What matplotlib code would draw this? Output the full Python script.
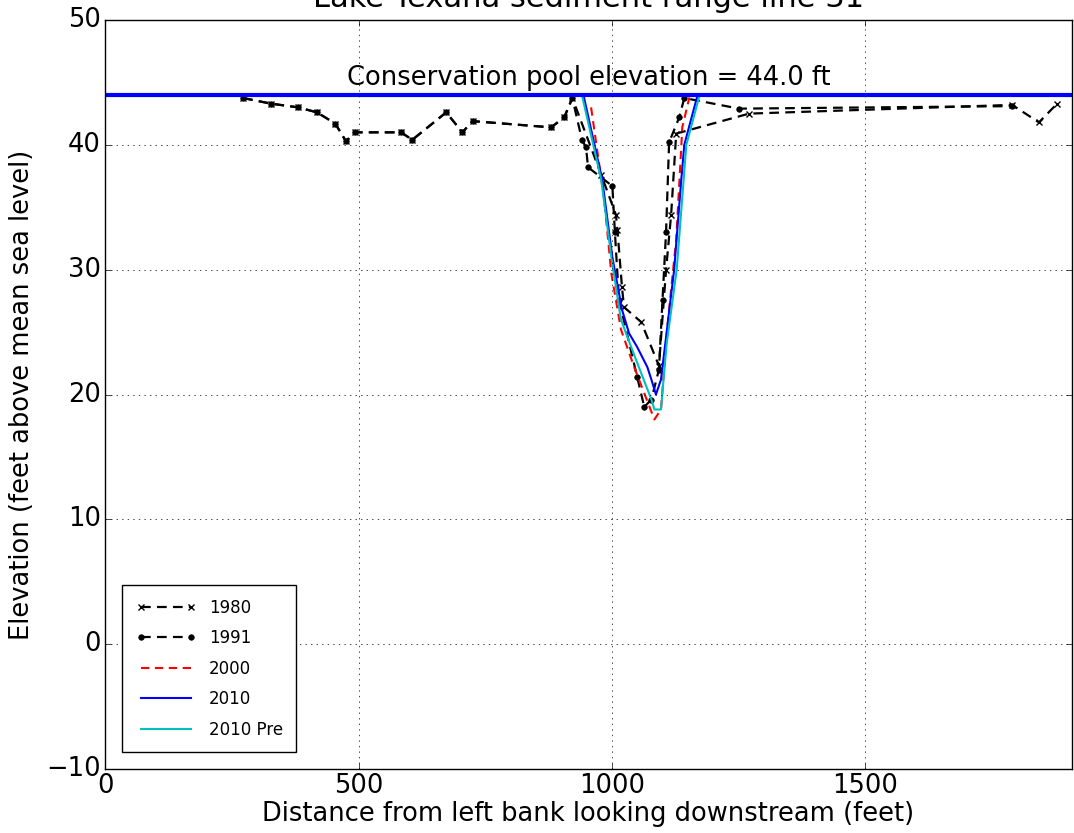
import numpy as np
import matplotlib
matplotlib.use("Agg")
import matplotlib.pyplot as plt

plt.style.use("classic")

# survey data (distance ft, elevation ft)
x_1980 = [272, 327, 381, 418, 454, 475, 493, 584, 606, 673, 705, 725, 880, 906, 922,
          979, 1008, 1011, 1020, 1024, 1058, 1093, 1107, 1117, 1127, 1271, 1790, 1843, 1879]
y_1980 = [43.75, 43.3, 43.0, 42.6, 41.7, 40.3, 41.0, 41.0, 40.4, 42.6, 41.0, 41.9, 41.4, 42.2, 43.75,
          37.6, 34.4, 33.2, 28.6, 27.0, 25.8, 22.3, 30.0, 34.4, 40.9, 42.5, 43.2, 41.8, 43.3]

x_1991 = [272, 327, 381, 418, 454, 475, 493, 584, 606, 673, 705, 725, 880, 906, 922,
          941, 949, 953, 1001, 1006, 1014, 1050, 1064, 1078, 1093, 1100, 1107, 1113, 1133, 1143, 1251, 1790]
y_1991 = [43.75, 43.3, 43.0, 42.6, 41.7, 40.3, 41.0, 41.0, 40.4, 42.6, 41.0, 41.9, 41.4, 42.2, 43.75,
          40.4, 39.8, 38.2, 36.7, 33.0, 27.6, 21.4, 19.0, 19.6, 22.0, 27.6, 33.0, 40.2, 42.2, 43.75, 42.9, 43.1]

x_2000 = [959, 985, 999, 1018, 1044, 1064, 1084, 1097, 1109, 1127, 1137, 1139, 1153]
y_2000 = [43.0, 35.6, 29.7, 25.2, 22.2, 20.1, 18.0, 18.8, 25.2, 32.4, 39.8, 41.4, 43.8]

x_2010 = [945, 981, 1001, 1020, 1034, 1050, 1070, 1078, 1087, 1097, 1123, 1137, 1143, 1168]
y_2010 = [43.8, 37.2, 31.0, 26.8, 24.9, 23.8, 22.2, 21.2, 20.0, 21.2, 30.0, 37.2, 40.0, 43.8]

x_2010pre = [942, 979, 999, 1018, 1040, 1058, 1078, 1084, 1097, 1108, 1128, 1147, 1172]
y_2010pre = [43.8, 37.2, 31.0, 26.0, 23.6, 21.7, 19.6, 18.8, 18.8, 24.0, 30.0, 40.0, 43.8]

pool_elev = 44.0
x_max = 1908

fig = plt.figure(figsize=(10.74, 8.33), dpi=100, facecolor="white")
ax = fig.add_axes([0.098, 0.0768, 0.9, 0.8992])
ax.set_facecolor("white")

ax.plot(x_1980, y_1980, "k--x", lw=1.6, ms=5, mew=1, dashes=(7, 4.5), label="1980")
ax.plot(x_1991, y_1991, "k--.", lw=1.6, ms=8, dashes=(7, 4.5), label="1991")
ax.plot(x_2000, y_2000, "r--", lw=1.5, dashes=(6, 4), label="2000")
ax.plot(x_2010, y_2010, "b-", lw=1.5, label="2010")
ax.plot(x_2010pre, y_2010pre, "c-", lw=1.5, label="2010 Pre")

ax.axhline(pool_elev, color="b", lw=3)
ax.text(x_max / 2, pool_elev + 0.3, "Conservation pool elevation = %.1f ft" % pool_elev,
        ha="center", va="bottom", fontsize=18.5)

ax.set_xlim(0, x_max)
ax.set_ylim(-10, 50)
ax.set_xticks([0, 500, 1000, 1500])
ax.set_yticks(np.arange(-10, 51, 10))
ax.tick_params(labelsize=18.5, pad=3)
ax.grid(True)

ax.set_title("Lake Texana sediment range line 31", fontsize=22, pad=9)
ax.set_xlabel("Distance from left bank looking downstream (feet)", fontsize=18.5, labelpad=1)
ax.set_ylabel("Elevation (feet above mean sea level)", fontsize=18.5, labelpad=8)

ax.legend(loc="lower left", bbox_to_anchor=(17 / 967, 17 / 749), borderaxespad=0,
          fontsize=12, numpoints=2, handlelength=3.6, labelspacing=0.75, borderpad=0.8)

fig.savefig("out.png", dpi=100, facecolor="white")
